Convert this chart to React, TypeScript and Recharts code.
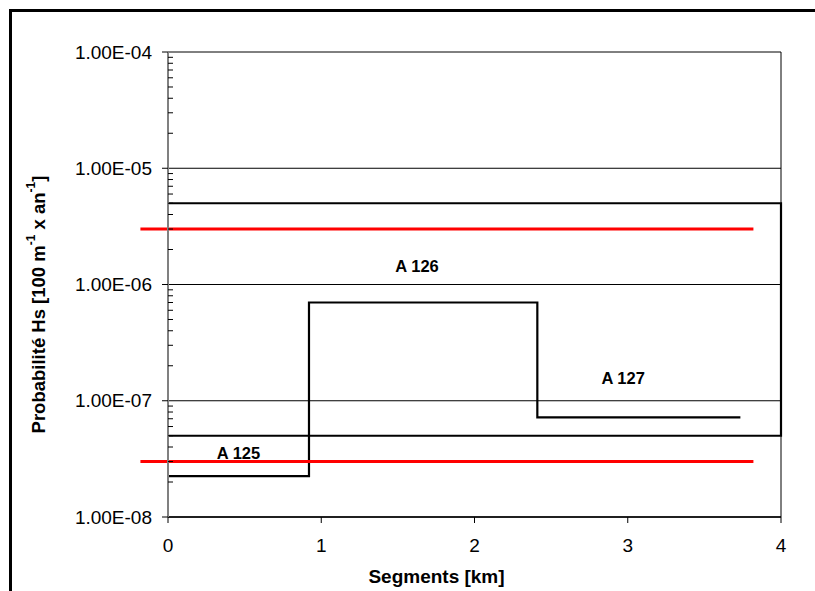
import React from 'react';
import {
  LineChart, Line, XAxis, YAxis, CartesianGrid, ReferenceLine, ReferenceDot, Label,
} from 'recharts';

// axis ticks
const X_TICKS = [0, 1, 2, 3, 4];
const X_MINOR = [
  0, 0.1, 0.2, 0.3, 0.4, 0.5, 0.6, 0.7, 0.8, 0.9,
  1, 1.1, 1.2, 1.3, 1.4, 1.5, 1.6, 1.7, 1.8, 1.9,
  2, 2.1, 2.2, 2.3, 2.4, 2.5, 2.6, 2.7, 2.8, 2.9,
  3, 3.1, 3.2, 3.3, 3.4, 3.5, 3.6, 3.7, 3.8, 3.9, 4,
];
const Y_TICKS = [1e-8, 1e-7, 1e-6, 1e-5, 1e-4];
const Y_MINOR = [
  2e-8, 3e-8, 4e-8, 5e-8, 6e-8, 7e-8, 8e-8, 9e-8,
  2e-7, 3e-7, 4e-7, 5e-7, 6e-7, 7e-7, 8e-7, 9e-7,
  2e-6, 3e-6, 4e-6, 5e-6, 6e-6, 7e-6, 8e-6, 9e-6,
  2e-5, 3e-5, 4e-5, 5e-5, 6e-5, 7e-5, 8e-5, 9e-5,
];

// envelope (box) line
const boxX = [0, 4, 4, 0];
const boxY = [5e-6, 5e-6, 5e-8, 5e-8];

// stepped segment probabilities
const stepX = [0, 0.92, 0.92, 2.41, 2.41, 3.735];
const stepY = [2.25e-8, 2.25e-8, 7e-7, 7e-7, 7.2e-8, 7.2e-8];

// red limit lines
const limitX = [-0.18, 3.82];
const limitY = [3e-6, 3e-8];

// segment labels
const labelNames = ['A 125', 'A 126', 'A 127'];
const labelX = [0.46, 1.625, 2.97];
const labelY = [3.55e-8, 1.44e-6, 1.57e-7];

const boxData = boxX.map((x, i) => ({ x, y: boxY[i] }));
const stepData = stepX.map((x, i) => ({ x, y: stepY[i] }));

const FONT = '"Liberation Sans", Arial, sans-serif';

const fmtExp = (v: number) => {
  const [m, e] = v.toExponential(2).split('e');
  const n = Math.abs(parseInt(e, 10));
  return `${m}E${e.startsWith('-') ? '-' : '+'}${String(n).padStart(2, '0')}`;
};

const YTitle = (props: any) => {
  const vb = props.viewBox || { x: 0, y: 52, width: 168, height: 465 };
  const cx = vb.x + 38;
  const cy = vb.y + vb.height / 2 + 20;
  return (
    <text
      x={cx}
      y={cy}
      transform={`rotate(-90, ${cx}, ${cy})`}
      textAnchor="middle"
      dominantBaseline="central"
      fontFamily={FONT}
      fontSize={18.5}
      fontWeight="bold"
      fill="#000"
    >
      Probabilité Hs [100 m
      <tspan fontSize={12} dy={-7}>-1</tspan>
      <tspan dy={7}> x an</tspan>
      <tspan fontSize={12} dy={-7}>-1</tspan>
      <tspan dy={7}>]</tspan>
    </text>
  );
};

const Empty = () => <g />;

export default function App() {
  return (
    <div style={{ position: 'fixed', left: 0, top: 0, width: 815, height: 591, overflow: 'hidden', background: '#fff' }}>
      <div style={{ position: 'absolute', left: 9, top: 9, width: 820, height: 600, borderTop: '3px solid #000', borderLeft: '3px solid #000' }} />
      <div style={{ position: 'absolute', left: 0, top: 0 }}>
        <LineChart width={815} height={591} margin={{ top: 52, right: 34, left: 0, bottom: 0 }} style={{ fontFamily: FONT }}>
          <CartesianGrid vertical={false} stroke="#000" strokeWidth={1} />
          <XAxis
            dataKey="x"
            type="number"
            domain={[0, 4]}
            ticks={X_TICKS}
            height={74}
            tickSize={6}
            tickMargin={16}
            stroke="#000"
            axisLine={{ stroke: '#000', strokeWidth: 1.5 }}
            tickLine={{ stroke: '#000' }}
            tick={{ fill: '#000', fontSize: 19, fontFamily: FONT }}
          >
            <Label value="Segments [km]" position="insideBottom" offset={8} dx={-38} fill="#000" fontSize={19} fontWeight="bold" fontFamily={FONT} />
          </XAxis>
          <XAxis
            xAxisId="minor"
            type="number"
            domain={[0, 4]}
            allowDataOverflow
            ticks={X_MINOR}
            mirror
            height={1}
            tickSize={4}
            axisLine={false}
            tickLine={{ stroke: '#808080' }}
            tick={Empty}
            interval={0}
          />
          <YAxis
            scale="log"
            type="number"
            domain={[1e-8, 1e-4]}
            ticks={Y_TICKS}
            width={168}
            tickSize={6}
            tickMargin={10}
            interval={0}
            tickFormatter={fmtExp}
            axisLine={{ stroke: '#808080', strokeWidth: 2 }}
            tickLine={{ stroke: '#000' }}
            tick={{ fill: '#000', fontSize: 19, fontFamily: FONT }}
          >
            <Label content={YTitle} />
          </YAxis>
          <YAxis
            yAxisId="minor"
            scale="log"
            type="number"
            domain={[1e-8, 1e-4]}
            allowDataOverflow
            ticks={Y_MINOR}
            interval={0}
            mirror
            width={1}
            tickSize={5}
            axisLine={false}
            tickLine={{ stroke: '#000' }}
            tick={Empty}
          />
          <ReferenceLine x={4} stroke="#000" strokeWidth={1} />
          <Line data={boxData} dataKey="y" type="linear" stroke="#000" strokeWidth={2.2} dot={false} isAnimationActive={false} />
          <Line data={stepData} dataKey="y" type="linear" stroke="#000" strokeWidth={2.2} dot={false} isAnimationActive={false} />
          {limitY.map((y, i) => (
            <ReferenceLine
              key={i}
              segment={[{ x: limitX[0], y }, { x: limitX[1], y }]}
              stroke="#ff0000"
              strokeWidth={3}
              ifOverflow="visible"
            />
          ))}
          {labelNames.map((name, i) => (
            <ReferenceDot
              key={name}
              x={labelX[i]}
              y={labelY[i]}
              r={0}
              fill="none"
              stroke="none"
              ifOverflow="visible"
              label={{ value: name, position: 'center', fill: '#000', fontSize: 16.5, fontWeight: 'bold', fontFamily: FONT }}
            />
          ))}
        </LineChart>
      </div>
    </div>
  );
}
